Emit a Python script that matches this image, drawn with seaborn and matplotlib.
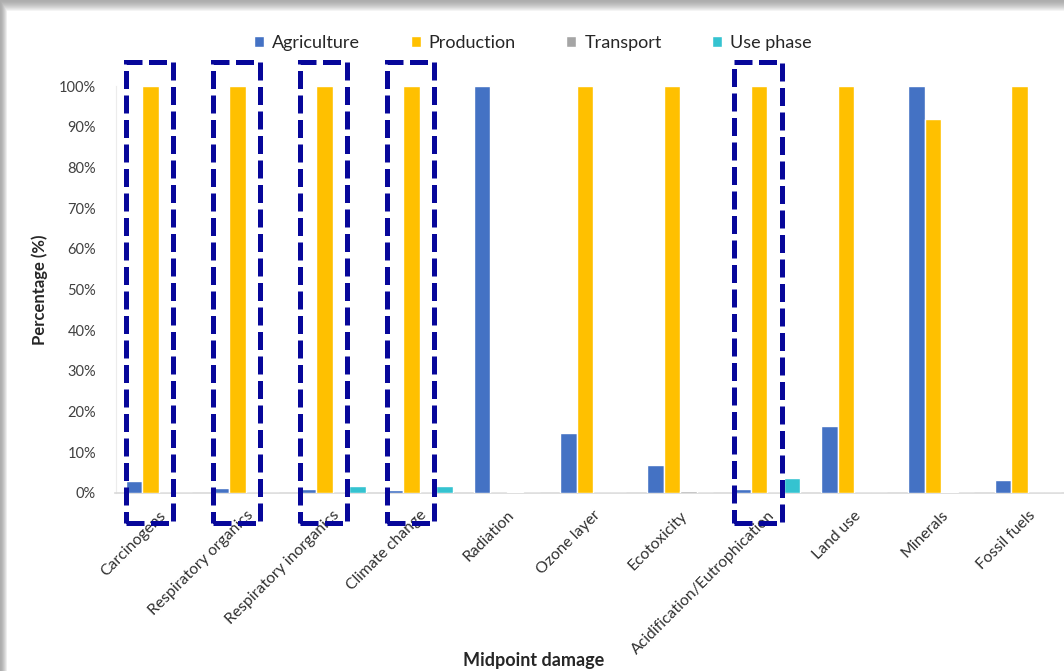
import matplotlib
matplotlib.use('Agg')
import matplotlib.pyplot as plt
import matplotlib.patches as mpatches
import numpy as np
import pandas as pd
import seaborn as sns

# data
categories = ['Carcinogens', 'Respiratory organics', 'Respiratory inorganics', 'Climate change',
              'Radiation', 'Ozone layer', 'Ecotoxicity', 'Acidification/Eutrophication',
              'Land use', 'Minerals', 'Fossil fuels']
agriculture = [3.0, 1.3, 0.9, 0.7, 100, 14.7, 6.8, 1.0, 16.5, 100, 3.2]
production = [100, 100, 100, 100, 0, 100, 100, 100, 100, 92, 100]
transport = [0, 0, 0, 0, 0.3, 0, 0.6, 0, 0, 0.3, 0]
use_phase = [0, 0, 1.8, 1.8, 0, 0, 0, 3.7, 0, 0, 0]
series = ['Agriculture', 'Production', 'Transport', 'Use phase']
highlighted = ['Carcinogens', 'Respiratory organics', 'Respiratory inorganics', 'Climate change',
               'Acidification/Eutrophication']

colors = ['#4472C4', '#FFC000', '#A5A5A5', '#35C3D0']

df = pd.DataFrame({'category': categories * 4,
                   'series': np.repeat(series, len(categories)),
                   'value': agriculture + production + transport + use_phase})

sns.set_theme(style='white')
plt.rcParams['font.family'] = ['Lato', 'DejaVu Sans']

W, H = 1064, 671
fig = plt.figure(figsize=(W / 100, H / 100), dpi=100)

# soft grey frame shadow at top and left, on a background axes
yy = np.arange(H)[:, None]
xx = np.arange(W)[None, :]
top = np.clip(yy / 11.0, 0, 1)
left = np.clip(xx / 7.0, 0, 1)
bg = 0.68 + 0.32 * np.minimum(top, left) ** 1.5
bg_ax = fig.add_axes([0, 0, 1, 1], zorder=-10)
bg_ax.imshow(np.dstack([bg, bg, bg]), aspect='auto', interpolation='nearest')
bg_ax.axis('off')

ax = fig.add_axes([115.5 / W, (H - 493) / H, 11 * 86.9 / W, (493 - 86) / H])
ax.set_facecolor('none')

sns.barplot(data=df, x='category', y='value', hue='series', order=categories,
            hue_order=series, palette=colors, width=0.76, gap=0, saturation=1,
            errorbar=None, ax=ax, legend=True, zorder=3)

ax.set_ylim(0, 100)
ax.set_xlim(-0.5, len(categories) - 0.5)
ax.set_yticks(np.arange(0, 101, 10))
ax.set_yticklabels([f'{v}%' for v in range(0, 101, 10)], fontsize=10.5, color='#404040')
ax.set_xticks(range(len(categories)))
ax.set_xticklabels(categories, rotation=45, ha='right', rotation_mode='anchor',
                   fontsize=11.3, color='#303030')
ax.tick_params(axis='both', length=0)
ax.tick_params(axis='x', pad=11)
ax.tick_params(axis='y', pad=14)

for s in ['top', 'right']:
    ax.spines[s].set_visible(False)
ax.spines['bottom'].set_color('#d9d9d9')
ax.spines['left'].set_color('#ececec')
ax.spines['bottom'].set_linewidth(1.2)
ax.spines['left'].set_linewidth(0.8)

ax.set_xlabel('Midpoint damage', fontsize=13, fontweight='bold')
ax.xaxis.set_label_coords((534 - 115.5) / (11 * 86.9), -(652 - 493) / (493 - 86))
ax.set_ylabel('Percentage (%)', fontsize=12, fontweight='bold')
ax.yaxis.set_label_coords(-(115.5 - 48) / (11 * 86.9), 0.5)

# dashed boxes around the highlighted groups
for name in highlighted:
    i = categories.index(name)
    rect = mpatches.Rectangle((i - 0.38, -7.3), 0.545, 113.1, fill=False,
                              edgecolor='#07079A', linewidth=3.6,
                              linestyle=(0, (3.6, 1.3)), clip_on=False, zorder=5)
    ax.add_patch(rect)

handles, labels = ax.get_legend_handles_labels()
ax.legend_.remove()
fig.legend(handles, labels, loc='center', bbox_to_anchor=(533 / W, 1 - 43 / H), ncol=4,
           frameon=False, fontsize=13, handlelength=0.55, handleheight=0.55,
           handletextpad=0.45, columnspacing=2.8)

fig.savefig('out.png', dpi=100)
